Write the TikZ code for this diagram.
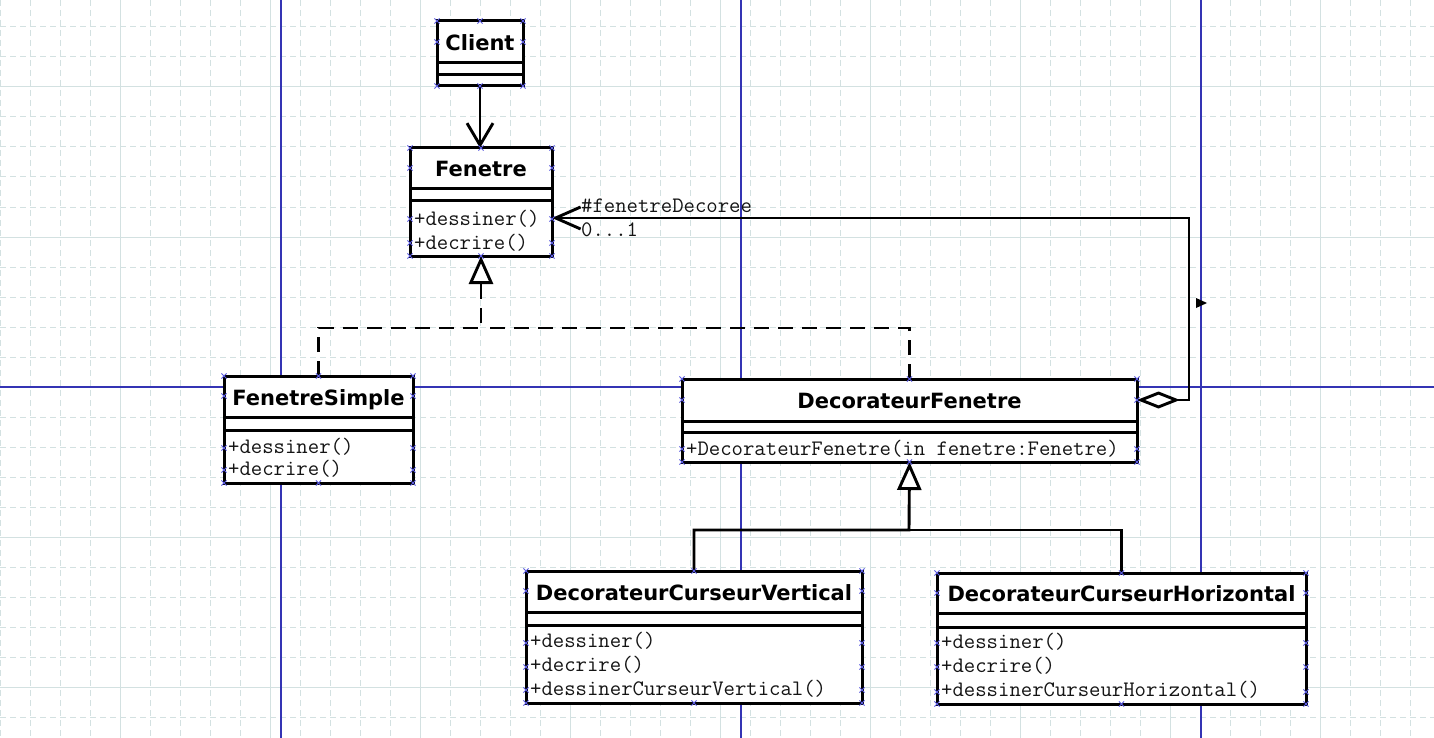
\documentclass[tikz,border=0pt]{standalone}
\usepackage{fontspec}
\newfontfamily\clsfont{DejaVu Sans}
\usetikzlibrary{arrows.meta,calc}
\pgfdeclarelayer{bg}
\pgfsetlayers{bg,main}

\definecolor{gridc}{HTML}{D3E1E1}
\definecolor{guide}{HTML}{3434B4}
\definecolor{handlec}{HTML}{5A5AE0}

\tikzset{
  compartment/.style={draw=black, fill=white, line width=3pt, inner sep=0pt, outer sep=0pt, anchor=north west},
  classname/.style={font=\clsfont\bfseries\fontsize{21}{24}\selectfont, inner sep=0pt, anchor=base},
  optext/.style={font=\ttfamily\fontsize{22.1}{24}\selectfont, inner sep=0pt, anchor=base west, text=black!92},
  link/.style={draw=black, line width=2.9pt},
  realize/.style={link, dash pattern=on 15pt off 9pt},
  gentip/.style={-{Triangle[length=28pt, width=24pt, fill=white]}},
  navtip/.style={-{Straight Barb[length=22pt, width=26pt]}},
  gridminor/.style={draw=gridc, line width=1pt, dash pattern=on 6pt off 4pt},
  gridmajor/.style={draw=gridc, line width=1pt},
  guideline/.style={draw=guide, line width=1.4pt},
  hmark/.pic={\draw[handlec, line width=0.9pt] (-2.6pt,-2.6pt) -- (2.6pt,2.6pt) (-2.6pt,2.6pt) -- (2.6pt,-2.6pt);}
}

% class box: id, left, top, right, name bottom, attribute bottom, bottom, title
\newcommand\umlclass[8]{%
  \node[compartment, minimum width={(#4-#2)*1pt}, minimum height={(#5-#3)*1pt}] (#1) at (#2,#3) {};
  \node[compartment, minimum width={(#4-#2)*1pt}, minimum height={(#6-#5)*1pt}] (#1-a) at (#2,#5) {};
  \node[compartment, minimum width={(#4-#2)*1pt}, minimum height={(#7-#6)*1pt}] (#1-o) at (#2,#6) {};
  \node[classname] (#1-n) at ({(#2+#4)/2},{(#3+#5)/2+8.5}) {#8};
}
% operation line: id, left, baseline, text
\newcommand\umlop[4]{\node[optext] (#1) at ({#2+4},#3) {#4};}
% selection handles: left, top, right, bottom, side positions
\newcommand\umlhandles[5]{%
  \foreach \px in {#1,{(#1+#3)/2},#3} {\pic at ({\px},#2) {hmark}; \pic at ({\px},#4) {hmark};}
  \foreach \py in {#5} {\pic at (#1,{\py}) {hmark}; \pic at (#3,{\py}) {hmark};}
}

\begin{document}
\begin{tikzpicture}[x=1pt, y=-1pt]
\useasboundingbox (0,0) rectangle (1434,738);

\begin{pgfonlayer}{bg}
  \fill[white] (0,0) rectangle (1434,738);
  \foreach \x in {0,30,...,1410} \draw[gridminor] (\x,0) -- (\x,738);
  \foreach \y in {27,57,...,717} \draw[gridminor] (0,\y) -- (1434,\y);
  \foreach \x in {120,270,...,1320} \draw[gridmajor] (\x,0) -- (\x,738);
  \foreach \y in {87,237,...,687} \draw[gridmajor] (0,\y) -- (1434,\y);
  \foreach \x in {281,741,1201} \draw[guideline] (\x,0) -- (\x,738);
  \draw[guideline] (0,387) -- (1434,387);
\end{pgfonlayer}

% classes
\umlclass{cl}{437}{21}{523}{63}{75}{86}{Client}
\umlclass{fe}{410}{148}{552}{189}{201}{256}{Fenetre}
\umlop{fe-o1}{410}{225}{+dessiner()}
\umlop{fe-o2}{410}{249}{+decrire()}

\umlclass{fs}{224}{376}{413}{417}{430}{483}{FenetreSimple}
\umlop{fs-o1}{224}{453}{+dessiner()}
\umlop{fs-o2}{224}{475}{+decrire()}

\umlclass{df}{682}{379}{1137}{421}{432}{462}{DecorateurFenetre}
\umlop{df-o1}{682}{455}{+DecorateurFenetre(in fenetre:Fenetre)}

\umlclass{dv}{526}{571}{862}{612}{625}{703}{DecorateurCurseurVertical}
\umlop{dv-o1}{526}{647}{+dessiner()}
\umlop{dv-o2}{526}{671}{+decrire()}
\umlop{dv-o3}{526}{695}{+dessinerCurseurVertical()}

\umlclass{dh}{937}{573}{1306}{613}{627}{704}{DecorateurCurseurHorizontal}
\umlop{dh-o1}{937}{648}{+dessiner()}
\umlop{dh-o2}{937}{672}{+decrire()}
\umlop{dh-o3}{937}{696}{+dessinerCurseurHorizontal()}

% junction points of the inheritance trees
\coordinate (j1) at (481,328);
\coordinate (j2) at (909,530);
\coordinate (loop) at (1189,218);
\coordinate (fe-in) at ([yshift=-17pt]fe-o.north east);

% Client navigates to Fenetre
\draw[link, navtip] (cl-o.south) -- (cl-o.south |- fe.north);

% realizations of Fenetre
\draw[realize, gentip] (fs.north) |- (j1) -- (fe-o.south);
\draw[realize] (df.north) |- (j1);

% specializations of DecorateurFenetre
\draw[link, gentip] (dv.north) |- (j2) -- (df-o.south);
\draw[link] (dh.north) |- (j2);

% aggregation of the decorated window
\draw[link, {Diamond[length=43pt, width=17pt, fill=white]}-{Straight Barb[length=25pt, width=22pt]}]
  (df.east) -| (loop) -- (fe-in);
\node[optext] (role) at (581,212) {\#fenetreDecoree};
\node[optext] (mult) at (581,236) {0...1};

% small marker on the right guide
\fill[black] (1196,298) -- (1207,303) -- (1196,308) -- cycle;

% selection handles
\umlhandles{437}{21}{523}{86}{42}
\umlhandles{410}{148}{552}{256}{168,219,243}
\umlhandles{224}{376}{413}{483}{396,448,470}
\umlhandles{682}{379}{1137}{462}{400,449}
\umlhandles{526}{571}{862}{703}{591,643,667,690}
\umlhandles{937}{573}{1306}{704}{593,643,667,692}
\end{tikzpicture}
\end{document}
